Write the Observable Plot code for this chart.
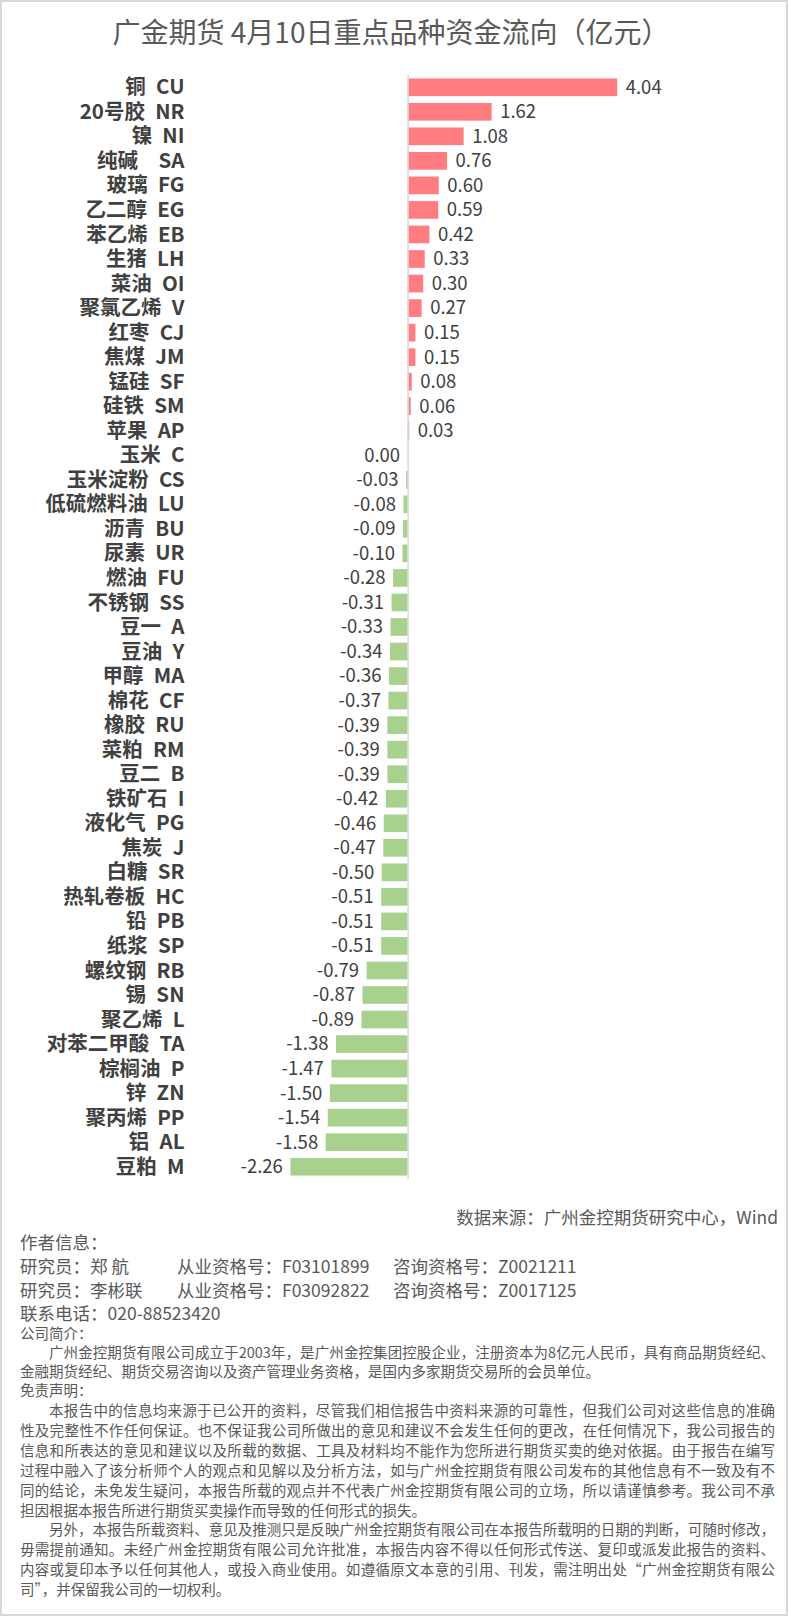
<!DOCTYPE html>
<html>
<head>
<meta charset="utf-8">
<script src="https://cdn.jsdelivr.net/npm/d3@7"></script>
<script src="https://cdn.jsdelivr.net/npm/@observablehq/plot@0.6"></script>
<style>
  html, body { margin: 0; padding: 0; background: #fff; }
  #page { position: relative; width: 788px; height: 1616px; overflow: hidden; font-family: "Noto Sans CJK SC", "Noto Sans", sans-serif; color: #595959; }
  #frame { position: absolute; left: 0; top: 0; width: 788px; height: 1616px; box-sizing: border-box; border: 2px solid #d9d9d9; pointer-events: none; }
  #title { height: 60px; line-height: 62px; font-size: 28px; text-align: center; padding-right: 6px; color: #595959; }
  #chart svg text { white-space: pre; }
  .ln { position: absolute; left: 20px; white-space: pre; }
  .big { font-size: 17.5px; line-height: 22px; }
  .small { font-size: 14.5px; line-height: 20px; }
  .just { width: 755px; text-align: justify; text-align-last: justify; }
  .ind { left: 49px; width: 726px; }
</style>
</head>
<body>
<div id="page">
  <div id="title">广金期货 4月10日重点品种资金流向（亿元）</div>
  <div id="chart"></div>
  <div id="footer"></div>
  <div id="frame"></div>
</div>
<script>
const names = ["铜 CU","20号胶 NR","镍 NI","纯碱  SA","玻璃 FG","乙二醇 EG","苯乙烯 EB","生猪 LH","菜油 OI","聚氯乙烯 V","红枣 CJ","焦煤 JM","锰硅 SF","硅铁 SM","苹果 AP","玉米 C","玉米淀粉 CS","低硫燃料油 LU","沥青 BU","尿素 UR","燃油 FU","不锈钢 SS","豆一 A","豆油 Y","甲醇 MA","棉花 CF","橡胶 RU","菜粕 RM","豆二 B","铁矿石 I","液化气 PG","焦炭 J","白糖 SR","热轧卷板 HC","铅 PB","纸浆 SP","螺纹钢 RB","锡 SN","聚乙烯 L","对苯二甲酸 TA","棕榈油 P","锌 ZN","聚丙烯 PP","铝 AL","豆粕 M"];
const values = [4.04,1.62,1.08,0.76,0.60,0.59,0.42,0.33,0.30,0.27,0.15,0.15,0.08,0.06,0.03,0.00,-0.03,-0.08,-0.09,-0.10,-0.28,-0.31,-0.33,-0.34,-0.36,-0.37,-0.39,-0.39,-0.39,-0.42,-0.46,-0.47,-0.50,-0.51,-0.51,-0.51,-0.79,-0.87,-0.89,-1.38,-1.47,-1.50,-1.54,-1.58,-2.26];

const posColor = "#FF7C80";
const negColor = "#A9D18E";

const data = names.map((n, i) => ({name: n, value: values[i]}));

const chart = Plot.plot({
  width: 788,
  height: 1140,
  marginTop: 15,
  marginBottom: 21,
  marginLeft: 252,
  marginRight: 121,
  style: {fontFamily: "'Noto Sans CJK SC', sans-serif", background: "transparent"},
  x: {domain: [-3, 5], axis: null},
  y: {domain: names, axis: null, padding: 0.28, paddingOuter: 0.14, round: false},
  marks: [
    Plot.barX(data, {x: "value", y: "name", fill: d => d.value > 0 ? posColor : negColor}),
    Plot.ruleX([0], {stroke: "#d9d9d9", strokeWidth: 1.5}),
    Plot.text(data, {y: "name", text: d => d.name.replace(/ /g, "\u2002"), frameAnchor: "left", dx: -68, textAnchor: "end", fontSize: 20.5, fontWeight: "bold", fill: "#404040"}),
    Plot.text(data.filter(d => d.value > 0), {x: "value", y: "name", text: d => d.value.toFixed(2), dx: 8, textAnchor: "start", fontSize: 18.5, fill: "#404040"}),
    Plot.text(data.filter(d => d.value <= 0), {x: "value", y: "name", text: d => d.value.toFixed(2), dx: -8, textAnchor: "end", fontSize: 18.5, fill: "#404040"})
  ]
});
document.getElementById("chart").appendChild(chart);

const footer = document.getElementById("footer");
function line(text, cy, cls, extra) {
  const d = document.createElement("div");
  d.className = "ln " + cls;
  const lh = cls.includes("big") ? 22 : 20;
  d.style.top = (cy - lh / 2) + "px";
  if (extra) Object.assign(d.style, extra);
  d.innerHTML = text;
  footer.appendChild(d);
  return d;
}
line("数据来源：广州金控期货研究中心，Wind", 1217, "big", {left: "auto", right: "10px"});
line("作者信息：", 1242, "big");
line('<span style="display:inline-block;width:157px">研究员：郑 航</span><span style="display:inline-block;width:216px">从业资格号：F03101899</span>咨询资格号：Z0021211', 1266, "big");
line('<span style="display:inline-block;width:157px">研究员：李彬联</span><span style="display:inline-block;width:216px">从业资格号：F03092822</span>咨询资格号：Z0017125', 1290, "big");
line("联系电话：020-88523420", 1313, "big");
line("公司简介：", 1333, "small");
line("广州金控期货有限公司成立于2003年，是广州金控集团控股企业，注册资本为8亿元人民币，具有商品期货经纪、", 1352, "small just ind");
line("金融期货经纪、期货交易咨询以及资产管理业务资格，是国内多家期货交易所的会员单位。", 1371, "small");
line("免责声明：", 1390, "small");
const disc = [
  ["本报告中的信息均来源于已公开的资料，尽管我们相信报告中资料来源的可靠性，但我们公司对这些信息的准确", "small just ind"],
  ["性及完整性不作任何保证。也不保证我公司所做出的意见和建议不会发生任何的更改，在任何情况下，我公司报告的", "small just"],
  ["信息和所表达的意见和建议以及所载的数据、工具及材料均不能作为您所进行期货买卖的绝对依据。由于报告在编写", "small just"],
  ["过程中融入了该分析师个人的观点和见解以及分析方法，如与广州金控期货有限公司发布的其他信息有不一致及有不", "small just"],
  ["同的结论，未免发生疑问，本报告所载的观点并不代表广州金控期货有限公司的立场，所以请谨慎参考。我公司不承", "small just"],
  ["担因根据本报告所进行期货买卖操作而导致的任何形式的损失。", "small"],
  ["另外，本报告所载资料、意见及推测只是反映广州金控期货有限公司在本报告所载明的日期的判断，可随时修改，", "small just ind"],
  ["毋需提前通知。未经广州金控期货有限公司允许批准，本报告内容不得以任何形式传送、复印或派发此报告的资料、", "small just"],
  ["内容或复印本予以任何其他人，或投入商业使用。如遵循原文本意的引用、刊发，需注明出处“广州金控期货有限公", "small just"],
  ["司”，并保留我公司的一切权利。", "small"]
];
disc.forEach((d, i) => line(d[0], 1410 + i * 19.9, d[1]));
</script>
</body>
</html>
